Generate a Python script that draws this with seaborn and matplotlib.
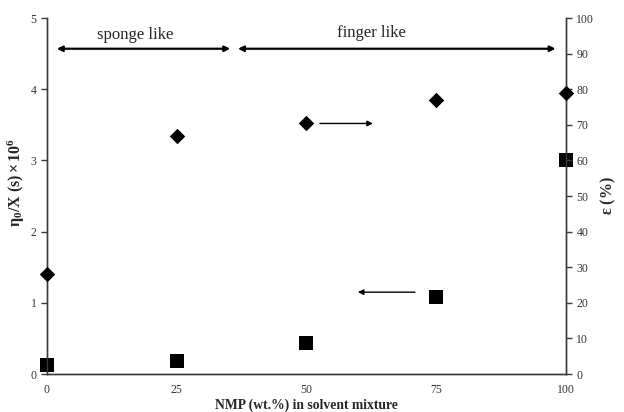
import matplotlib
matplotlib.use("Agg")
import matplotlib.pyplot as plt
import seaborn as sns
import pandas as pd

# NMP content of the solvent mixture (wt.%)
nmp = [0, 25, 50, 75, 100]
# zero-shear viscosity over dimensionless parameter (left axis, x10^6 s)
eta_ratio = [0.12, 0.18, 0.43, 1.08, 3.0]
# porosity epsilon (right axis, %)
porosity = [28.0, 66.9, 70.4, 77.0, 78.9]

x_ticks = [0, 25, 50, 75, 100]
left_ticks = [0, 1, 2, 3, 4, 5]
right_ticks = [0, 10, 20, 30, 40, 50, 60, 70, 80, 90, 100]

df = pd.DataFrame({"nmp": nmp, "eta": eta_ratio, "eps": porosity})

sns.set_style("white")
plt.rcParams["font.family"] = ["Liberation Serif", "DejaVu Serif"]
plt.rcParams["mathtext.fontset"] = "custom"
plt.rcParams["mathtext.rm"] = "Liberation Serif"
plt.rcParams["mathtext.bf"] = "Liberation Serif:bold"
plt.rcParams["mathtext.it"] = "Liberation Serif:italic"

fig = plt.figure(figsize=(6.24, 4.12), dpi=100)
ax = fig.add_axes([0.0753, 0.0922, 0.8317, 0.8638])
ax2 = ax.twinx()

sns.scatterplot(data=df, x="nmp", y="eta", marker="s", s=105, color="black",
                edgecolor="black", linewidth=0, ax=ax, clip_on=False, zorder=5)
sns.scatterplot(data=df, x="nmp", y="eps", marker="D", s=62, color="black",
                edgecolor="black", linewidth=0, ax=ax2, clip_on=False, zorder=5)

ax.set_xlim(0, 100)
ax.set_ylim(0, 5)
ax2.set_ylim(0, 100)
ax.set_xticks(x_ticks)
ax.set_yticks(left_ticks)
ax2.set_yticks(right_ticks)

spine_color = "#3a3a3a"
for a in (ax, ax2):
    a.spines["top"].set_visible(False)
    for s in ("left", "right", "bottom"):
        a.spines[s].set_color(spine_color)
        a.spines[s].set_linewidth(1.0)
    a.tick_params(direction="out", length=4, width=1.0, color=spine_color,
                  labelsize=8.5, labelcolor="#333333")
ax.tick_params(axis="x", pad=3)

ax.set_xlabel("NMP (wt.%) in solvent mixture", fontsize=9.8, fontweight="bold",
              labelpad=2)
ax.set_ylabel(r"$\mathbf{\eta_0/X\ (s)\times 10^6}$", fontsize=11.5)
ax.yaxis.set_label_coords(-0.038, 0.537)
ax2.set_ylabel(r"$\mathbf{\varepsilon}$ (%)", fontsize=11.5, fontweight="bold",
               labelpad=3, rotation=90)

# region annotations
arrow_kw = dict(arrowstyle="<|-|>", color="black", lw=1.6, mutation_scale=8,
                shrinkA=0, shrinkB=0)
ax.annotate("", xy=(1.9, 4.57), xytext=(35.3, 4.57), arrowprops=arrow_kw)
ax.annotate("", xy=(36.8, 4.57), xytext=(98.0, 4.57), arrowprops=arrow_kw)
ax.text(17.0, 4.76, "sponge like", ha="center", va="center", fontsize=12)
ax.text(62.6, 4.79, "finger like", ha="center", va="center", fontsize=12)

# axis pointers
one_kw = dict(arrowstyle="-|>", color="black", lw=1.0, mutation_scale=8,
              shrinkA=0, shrinkB=0)
ax2.annotate("", xy=(62.8, 70.4), xytext=(52.6, 70.4), arrowprops=one_kw)
ax.annotate("", xy=(59.9, 1.15), xytext=(70.9, 1.15), arrowprops=one_kw)

fig.savefig("out.png", dpi=100)
